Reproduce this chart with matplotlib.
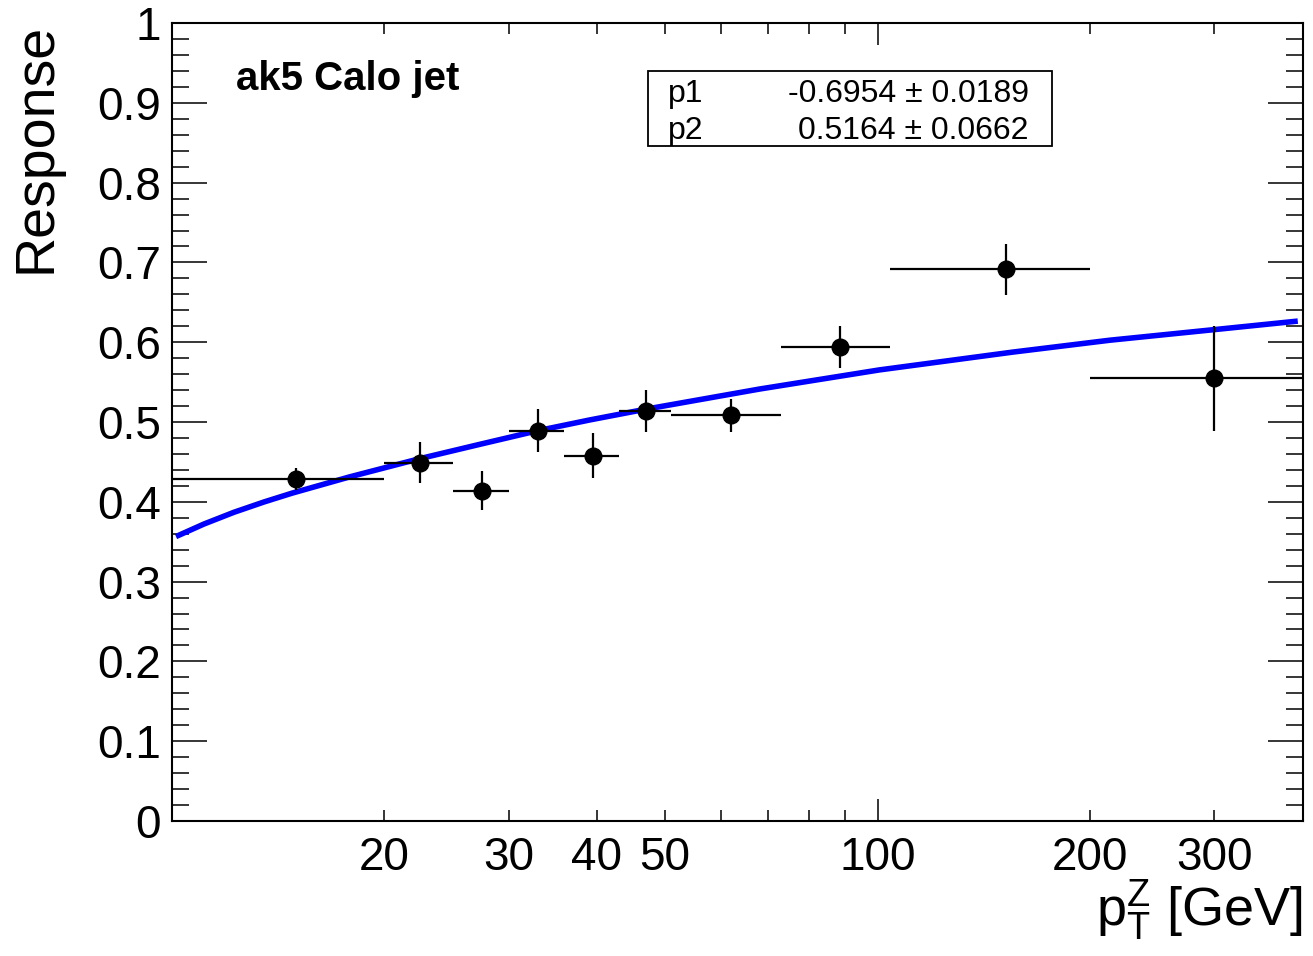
import numpy as np
import matplotlib
matplotlib.use('Agg')
import matplotlib.pyplot as plt
from matplotlib.ticker import FixedLocator, FixedFormatter, MultipleLocator
from matplotlib.patches import Rectangle

# Punkty pomiarowe (pT^Z, odpowiedz)
pt_vals = [15, 22.5, 27.5, 33, 39.5, 47, 62, 88.5, 152, 300]
pt_errs = [5, 2.5, 2.5, 3, 3.5, 4, 11, 15.5, 48, 100]
resp_vals = [0.4285, 0.4488, 0.414, 0.489, 0.458, 0.5144, 0.5086, 0.5943, 0.6913, 0.5546]
resp_errs = [0.0136, 0.0257, 0.0245, 0.027, 0.028, 0.0263, 0.0207, 0.026, 0.0323, 0.066]

# Krzywa dopasowania
fit_pt = [10.13, 11.10, 12.24, 13.51, 14.80, 17.83, 22.40, 27.26, 32.94, 39.04, 47.02,
          68.0, 100.6, 155.4, 213.3, 301.6, 394.2]
fit_resp = [0.3565, 0.3722, 0.3869, 0.3999, 0.4109, 0.4311, 0.4539, 0.4719, 0.489, 0.5025,
            0.5162, 0.5413, 0.5653, 0.5876, 0.6025, 0.616, 0.6265]

# Parametry dopasowania
par_names = ['p1', 'p2']
par_texts = ['-0.6954 \u00b1 0.0189', '0.5164 \u00b1 0.0662']

x_major = [100]
x_minor = [20, 30, 40, 50, 60, 70, 80, 90, 200, 300]
x_minor_labels = ['20', '30', '40', '50', '', '', '', '', '200', '300']

plt.rcParams['font.family'] = ['Liberation Sans', 'DejaVu Sans']
plt.rcParams['mathtext.fontset'] = 'custom'
plt.rcParams['mathtext.rm'] = 'Liberation Sans'
plt.rcParams['mathtext.it'] = 'Liberation Sans'


def main():
    fig = plt.figure(figsize=(13.13, 9.56), dpi=100)
    ax = fig.add_axes([0.131, 0.1412, 0.8614, 0.8347])

    ax.plot(fit_pt, fit_resp, color='#0000ff', lw=4, solid_capstyle='butt',
            solid_joinstyle='round', zorder=3)
    ax.errorbar(pt_vals, resp_vals, xerr=pt_errs, yerr=resp_errs, fmt='o', color='black',
                ms=12, elinewidth=1.6, capsize=0, zorder=4)

    ax.set_xscale('log')
    ax.set_xlim(10, 401)
    ax.set_ylim(0, 1)

    ax.xaxis.set_major_locator(FixedLocator(x_major))
    ax.xaxis.set_major_formatter(FixedFormatter(['100']))
    ax.xaxis.set_minor_locator(FixedLocator(x_minor))
    ax.xaxis.set_minor_formatter(FixedFormatter(x_minor_labels))
    ax.yaxis.set_minor_locator(MultipleLocator(0.02))
    ax.set_yticks([0, 0.1, 0.2, 0.3, 0.4, 0.5, 0.6, 0.7, 0.8, 0.9, 1.0])
    ax.set_yticklabels(['0', '0.1', '0.2', '0.3', '0.4', '0.5', '0.6', '0.7', '0.8', '0.9', '1'])

    ax.tick_params(axis='both', which='both', direction='in', top=True, right=True, width=1.1)
    ax.tick_params(axis='y', which='major', length=25, labelsize=33, pad=8)
    ax.tick_params(axis='y', which='minor', length=12.5)
    ax.tick_params(axis='x', which='major', length=16, labelsize=33, pad=11)
    ax.tick_params(axis='x', which='minor', length=8, labelsize=33, pad=11)
    for s in ax.spines.values():
        s.set_linewidth(1.5)

    ax.set_ylabel('Response', fontsize=40, loc='top')
    ax.yaxis.set_label_coords(-0.097, 1.0)
    ax.set_xlabel(r'$\mathregular{p_{T}^{Z}}$ [GeV]', fontsize=39, loc='right')
    ax.xaxis.set_label_coords(1.0, -0.07)

    ax.text(0.0566, 0.9297, 'ak5 Calo jet', transform=ax.transAxes, fontsize=29,
            fontweight='bold', ha='left', va='center')

    # Ramka ze statystykami dopasowania
    ax.add_patch(Rectangle((0.4209, 0.8457), 0.3571, 0.0941, transform=ax.transAxes,
                           facecolor='white', edgecolor='black', lw=1.3, zorder=5))
    rows_y = [0.9115, 0.8651]
    for name, val, yy in zip(par_names, par_texts, rows_y):
        ax.text(0.4386, yy, name, transform=ax.transAxes, fontsize=23, ha='left',
                va='center', zorder=6)
        ax.text(0.7577, yy, val, transform=ax.transAxes, fontsize=23, ha='right',
                va='center', zorder=6)

    fig.savefig('out.png', dpi=100, facecolor='white')


if __name__ == "__main__":
    main()
